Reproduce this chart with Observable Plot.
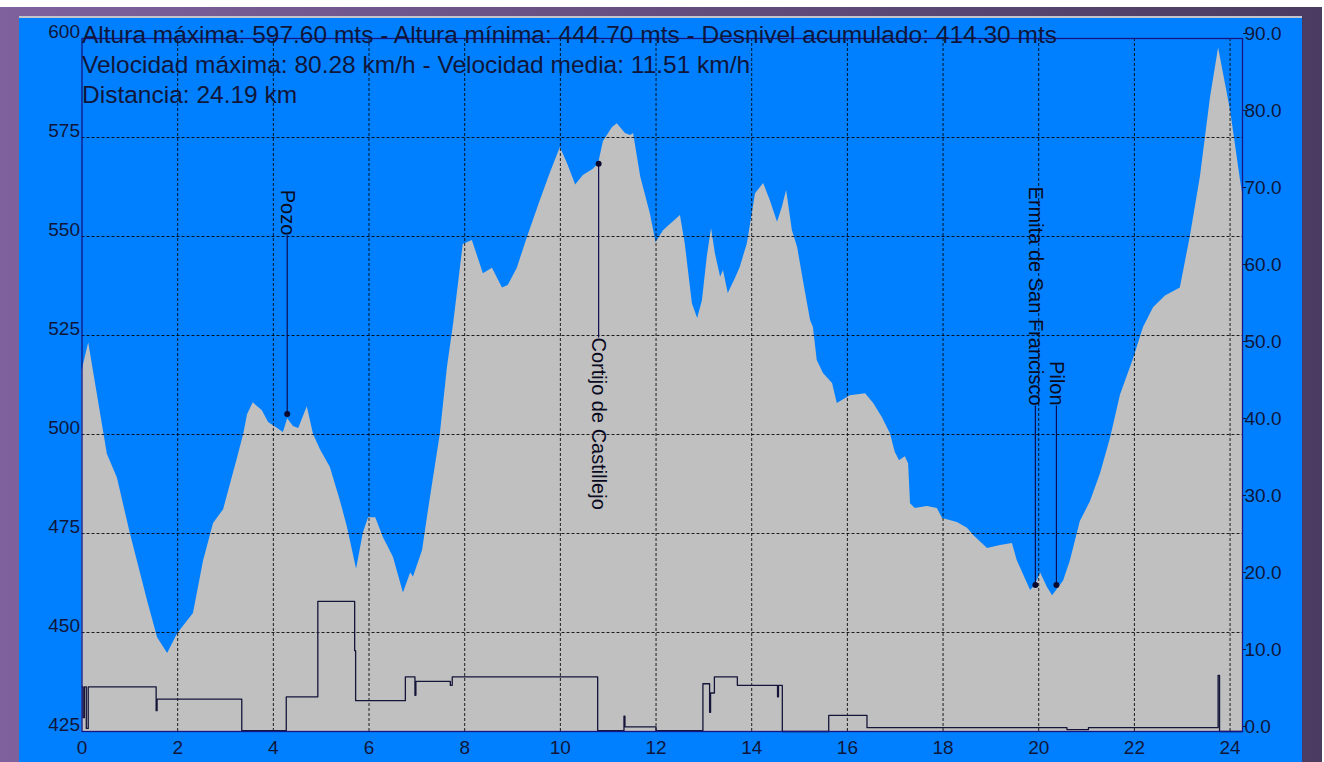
<!DOCTYPE html>
<html><head><meta charset="utf-8">
<script src="https://cdn.jsdelivr.net/npm/d3@7"></script>
<script src="https://cdn.jsdelivr.net/npm/@observablehq/plot@0.6"></script>
<style>
body{margin:0;background:#fff;font-family:"Liberation Sans",Arial,sans-serif;}
#outer{position:absolute;left:0;top:7px;width:1322px;height:755px;background:linear-gradient(to right,#7e619d,#4b3b61);}
#panel{position:absolute;left:19px;top:16px;width:1283px;height:746px;background:#0080ff;border-top:2px solid #c4c4cc;box-sizing:border-box;}
#chart{position:absolute;left:0;top:0;}
</style></head><body>
<div id="outer"></div><div id="panel"></div><div id="chart"></div>
<script>
// Elevation profile (km, metres)
const elevKm = [0, 0.14, 0.53, 0.74, 1.01, 1.37, 1.58, 1.79, 2.00, 2.33,
  2.54, 2.75, 2.96, 3.25, 3.38, 3.46, 3.58, 3.77, 3.90, 4.09,
  4.21, 4.30, 4.42, 4.53, 4.71, 4.84, 4.99, 5.19, 5.40, 5.55,
  5.74, 5.88, 5.99, 6.14, 6.30, 6.51, 6.72, 6.87, 6.93, 7.12,
  7.22, 7.34, 7.49, 7.64, 7.77, 7.97, 8.16, 8.39, 8.58, 8.79,
  8.91, 9.10, 9.31, 9.58, 9.79, 10.00, 10.15, 10.32, 10.48, 10.69,
  10.80, 10.90, 11.09, 11.19, 11.36, 11.47, 11.53, 11.68, 11.88, 12.00,
  12.16, 12.51, 12.61, 12.76, 12.87, 12.97, 13.07, 13.16, 13.24, 13.35,
  13.41, 13.51, 13.66, 13.76, 13.91, 14.08, 14.25, 14.39, 14.54, 14.64,
  14.73, 14.85, 14.96, 15.08, 15.23, 15.29, 15.37, 15.50, 15.69, 15.79,
  16.06, 16.38, 16.55, 16.73, 16.90, 17.00, 17.09, 17.21, 17.28, 17.32,
  17.42, 17.67, 17.88, 17.99, 18.30, 18.51, 18.64, 18.93, 19.20, 19.45,
  19.55, 19.83, 19.93, 20.04, 20.18, 20.29, 20.52, 20.66, 20.87, 21.08,
  21.29, 21.50, 21.71, 21.98, 22.19, 22.40, 22.65, 22.96, 23.17, 23.38,
  23.59, 23.76, 24.01, 24.22, 24.26];
const elevM = [516, 523.2, 495, 489, 475, 458, 448.7, 444.7, 449.7, 454.8,
  468, 477.5, 481, 494, 500, 505, 508, 506, 503, 501.5,
  500.5, 504, 502, 501.5, 507, 500, 496, 491.7, 483.3, 476.5,
  466, 475, 479, 479, 474, 469, 460, 465, 464, 470.7,
  479, 488.4, 500, 517, 528, 548, 549, 540.6, 542, 537,
  537.6, 542, 549.7, 559, 566, 572.5, 568.4, 563, 565.4, 567,
  568.4, 574, 577.5, 578.5, 576, 575.5, 576, 565, 555.8, 548.5,
  551.5, 555.3, 548.2, 533, 529.3, 533.8, 544.7, 552, 545.7, 539.7,
  541.4, 535.6, 539.4, 542.2, 548.2, 560.8, 563.4, 559, 553.6, 557.3,
  561.6, 551.5, 547.2, 538.9, 528.8, 527, 518.7, 515.4, 512.9, 507.8,
  509.8, 510.3, 507.8, 504.3, 500.2, 495.5, 493.4, 494.4, 492.6, 482.5,
  481.3, 481.8, 481.3, 478.8, 477.8, 476.3, 474.5, 471.2, 472, 472.5,
  468.2, 460.6, 462, 465, 461.4, 459.3, 463, 468, 478, 483,
  490, 499, 510, 519, 527, 532, 535, 537, 550, 565,
  585, 597.6, 581.8, 564, 561];

// Speed (km, km/h) - step changes
const speedKm = [0, 0.02, 0.05, 0.09, 0.13, 1.55, 1.57, 3.34, 4.27, 4.93,
  5.70, 5.72, 6.76, 6.96, 6.98, 7.70, 7.74, 10.78, 11.33, 11.35,
  12.00, 12.98, 13.12, 13.14, 13.22, 13.70, 14.54, 14.56, 14.64, 15.61,
  16.41, 20.59, 21.04, 23.75, 23.78, 24.26];
const speedKmh = [5.8, 1.8, 5.8, 0.4, 5.8, 2.7, 4.2, 0.1, 4.5, 16.9,
  10.5, 4.0, 7.1, 4.7, 6.5, 6.0, 7.1, 0.1, 2.0, 0.6,
  0.1, 6.2, 2.5, 5.0, 7.1, 6.0, 4.5, 6.0, 0.0, 2.1,
  0.5, 0.25, 0.5, 7.3, 0.0, 0.0];

// Waypoints
const wpNames = ["Pozo", "Cortijo de Castillejo", "Ermita de San Francisco", "Pilon"];
const wpKm = [4.29, 10.80, 19.93, 20.37];
const wpElev = [505.2, 568.4, 462.0, 462.0];
const wpLabelElev = [550.3, 524.5, 507.3, 507.3];

// Axes
const xTicks = [0, 2, 4, 6, 8, 10, 12, 14, 16, 18, 20, 22, 24];
const yTicks = [425, 450, 475, 500, 525, 550, 575, 600];
const speedTicks = [0, 10, 20, 30, 40, 50, 60, 70, 80, 90];

const headerLines = [
  "Altura máxima: 597.60 mts - Altura mínima: 444.70 mts - Desnivel acumulado: 414.30 mts",
  "Velocidad máxima: 80.28 km/h - Velocidad media: 11.51 km/h",
  "Distancia: 24.19 km"
];

const yMin = 425, yMax = 600, sMax = 90;
const toElev = s => yMin + s * (yMax - yMin) / sMax;

const profile = elevKm.map((k, i) => ({km: k, elev: elevM[i]}));
const speed = speedKm.map((k, i) => ({km: k, s: speedKmh[i]}));
const wps = wpNames.map((n, i) => ({name: n, km: wpKm[i], elev: wpElev[i], lab: wpLabelElev[i], up: wpLabelElev[i] > wpElev[i]}));

const ink = "#10163a";
const frameCol = "#151585";

const chart = Plot.plot({
  width: 1324, height: 762,
  marginLeft: 81.5, marginRight: 82, marginTop: 38, marginBottom: 31,
  style: {background: "transparent", fontFamily: "'Liberation Sans', Arial, sans-serif", color: ink},
  x: {domain: [0, 24.26]},
  y: {domain: [yMin, yMax]},
  marks: [
    Plot.areaY(profile, {x: "km", y1: yMin, y2: "elev", fill: "#c0c0c0"}),
    Plot.gridX(xTicks.slice(1), {stroke: "#000", strokeOpacity: 0.85, strokeDasharray: "3,2"}),
    Plot.gridY(yTicks.slice(1, -1), {stroke: "#000", strokeOpacity: 0.85, strokeDasharray: "3,2"}),
    Plot.line(speed, {x: "km", y: d => toElev(d.s), curve: "step-after", stroke: "#15153a", strokeWidth: 1.3}),
    Plot.link(wps, {x1: "km", x2: "km", y1: "elev", y2: "lab", stroke: "#0c0c50", strokeWidth: 1.2}),
    Plot.dot(wps, {x: "km", y: "elev", r: 3, fill: "#0a0a30"}),
    Plot.text(wps.filter(d => d.up), {x: "km", y: "lab", text: "name", rotate: 90, textAnchor: "end", fontSize: 20, fill: "#0a0a20"}),
    Plot.text(wps.filter(d => !d.up), {x: "km", y: "lab", text: "name", rotate: 90, textAnchor: "start", fontSize: 20, fill: "#0a0a20"}),
    Plot.frame({stroke: frameCol, strokeWidth: 1.3}),
    Plot.axisY(yTicks, {anchor: "left", tickSize: 0, tickPadding: 2, fontSize: 19, dy: -6.5, label: null}),
    Plot.axisX(xTicks, {anchor: "bottom", tickSize: 0, tickPadding: 9, fontSize: 19, label: null}),
    Plot.axisY(speedTicks.map(toElev), {anchor: "right", tickSize: 3, tickPadding: -1, fontSize: 19, dy: -5, label: null,
      tickFormat: v => (Math.round((v - yMin) * sMax / (yMax - yMin))).toFixed(1)}),
    Plot.text([headerLines[0]], {frameAnchor: "top-left", textAnchor: "start", lineAnchor: "bottom", dy: 4, fontSize: 24.5, fill: ink}),
    Plot.text([headerLines[1]], {frameAnchor: "top-left", textAnchor: "start", lineAnchor: "bottom", dy: 34, fontSize: 24.5, fill: ink}),
    Plot.text([headerLines[2]], {frameAnchor: "top-left", textAnchor: "start", lineAnchor: "bottom", dy: 64, fontSize: 24.5, fill: ink})
  ]
});
document.getElementById("chart").appendChild(chart);
</script>
</body></html>
